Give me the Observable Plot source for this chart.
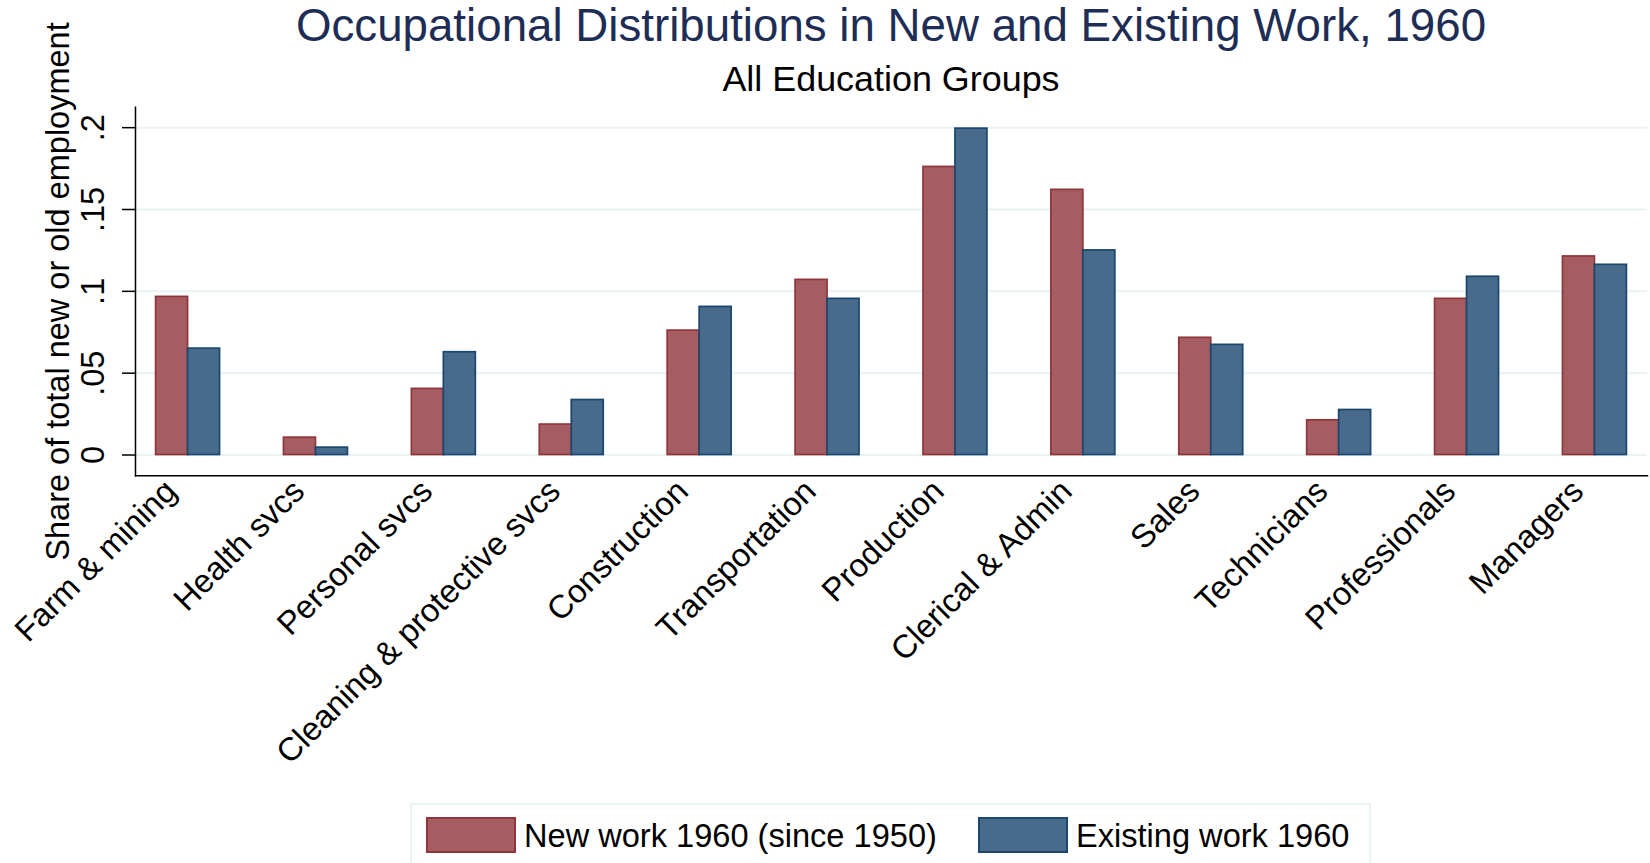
<!DOCTYPE html>
<html>
<head>
<meta charset="utf-8">
<script src="https://cdn.jsdelivr.net/npm/d3@7"></script>
<script src="https://cdn.jsdelivr.net/npm/@observablehq/plot@0.6"></script>
<style>
  html, body { margin: 0; padding: 0; background: white; }
  #wrap { position: relative; width: 1650px; height: 863px; overflow: hidden; font-family: "Liberation Sans", Arial, sans-serif; }
  .title { position: absolute; left: 135px; width: 1512px; text-align: center; top: 3.3px; font-size: 45.7px; line-height: 45.7px; color: #1e2d55; white-space: nowrap; }
  .subtitle { position: absolute; left: 135px; width: 1512px; text-align: center; top: 62px; font-size: 35.9px; line-height: 35.9px; color: #000; white-space: nowrap; }
  #chart { position: absolute; left: 0; top: 0; }
  .legend { position: absolute; left: 410px; top: 803px; width: 961px; height: 62px; box-sizing: border-box; border: 2px solid #eaf2f3; background: white; }
  .sw { position: absolute; top: 12px; width: 90px; height: 36px; box-sizing: border-box; border: 2px solid; }
  .lt { position: absolute; top: 15px; font-size: 32.6px; line-height: 32.6px; color: #000; white-space: nowrap; }
</style>
</head>
<body>
<div id="wrap">
  <div id="chart"></div>
  <div class="title" id="title"></div>
  <div class="subtitle" id="subtitle"></div>
  <div class="legend" id="legend"></div>
</div>
<script>
const titleText = "Occupational Distributions in New and Existing Work, 1960";
const subtitleText = "All Education Groups";
const yTitle = "Share of total new or old employment";
const categories = ["Farm & mining", "Health svcs", "Personal svcs", "Cleaning & protective svcs", "Construction", "Transportation", "Production", "Clerical & Admin", "Sales", "Technicians", "Professionals", "Managers"];
const seriesNames = ["New work 1960 (since 1950)", "Existing work 1960"];
const newWork = [0.0966, 0.0106, 0.0404, 0.0186, 0.0760, 0.1070, 0.1760, 0.1620, 0.0716, 0.0212, 0.0954, 0.1213];
const existingWork = [0.0650, 0.0045, 0.0628, 0.0336, 0.0905, 0.0954, 0.1994, 0.1250, 0.0673, 0.0275, 0.1089, 0.1162];
const yTicks = [0, 0.05, 0.1, 0.15, 0.2];
const yTickLabels = ["0", ".05", ".1", ".15", ".2"];

const fills = ["#a65d62", "#486b8c"];
const strokes = ["#90353b", "#1a476f"];

document.getElementById("title").textContent = titleText;
document.getElementById("subtitle").textContent = subtitleText;

const rows = [];
categories.forEach((c, i) => {
  rows.push({cat: c, series: seriesNames[0], value: newWork[i]});
  rows.push({cat: c, series: seriesNames[1], value: existingWork[i]});
});

const W = 1650, H = 790, mL = 135, mR = 3, mT = 106.7, mB = 790 - 475.3;
const pIn = 0.5, pOut = 0.161;
const step = (W - mL - mR) / (categories.length - pIn + 2 * pOut);
const bw = step * (1 - pIn);
const fontFam = "'Liberation Sans', Arial, sans-serif";

const plot = Plot.plot({
  width: W, height: H,
  marginLeft: mL, marginRight: mR, marginTop: mT, marginBottom: mB,
  style: {fontFamily: fontFam, fontSize: "32px", background: "transparent", color: "#000"},
  x: {domain: categories, paddingInner: pIn, paddingOuter: pOut, round: false, axis: null},
  y: {domain: [-0.0127, 0.2125], axis: null},
  marks: [
    Plot.gridY(yTicks, {stroke: "#eaf2f3", strokeOpacity: 1, strokeWidth: 2}),
    Plot.barY(rows.filter(d => d.series === seriesNames[0]), {x: "cat", y: "value", fill: fills[0], stroke: strokes[0], strokeWidth: 1.7, insetRight: bw / 2}),
    Plot.barY(rows.filter(d => d.series === seriesNames[1]), {x: "cat", y: "value", fill: fills[1], stroke: strokes[1], strokeWidth: 1.7, insetLeft: bw / 2}),
    Plot.axisY({ticks: yTicks, tickSize: 13, tickFormat: () => "", label: null, stroke: "#000", strokeWidth: 1.5}),
    Plot.text(yTicks, {y: d => d, text: (d, i) => yTickLabels[i], frameAnchor: "left", dx: -42, rotate: -90, textAnchor: "middle", lineAnchor: "middle", fontSize: 32.5, fill: "#000"}),
    Plot.text([yTitle], {text: d => d, frameAnchor: "left", dx: -77, rotate: -90, textAnchor: "middle", lineAnchor: "middle", fontSize: 32.5, fill: "#000"}),
    Plot.axisX({tickSize: 0, tickPadding: 8, tickRotate: -45, fontSize: 32.7, label: null, fill: "#000", dx: -17, dy: 2}),
    Plot.frame({anchor: "left", stroke: "#000", strokeWidth: 1.5}),
    Plot.frame({anchor: "bottom", stroke: "#000", strokeWidth: 1.5})
  ]
});
document.getElementById("chart").appendChild(plot);

// legend
const leg = document.getElementById("legend");
const swLeft = [14, 566], txtLeft = [112, 664];
seriesNames.forEach((s, i) => {
  const sw = document.createElement("div");
  sw.className = "sw";
  sw.style.left = swLeft[i] + "px";
  sw.style.background = fills[i];
  sw.style.borderColor = strokes[i];
  leg.appendChild(sw);
  const t = document.createElement("div");
  t.className = "lt";
  t.style.left = txtLeft[i] + "px";
  t.textContent = s;
  leg.appendChild(t);
});
</script>
</body>
</html>
